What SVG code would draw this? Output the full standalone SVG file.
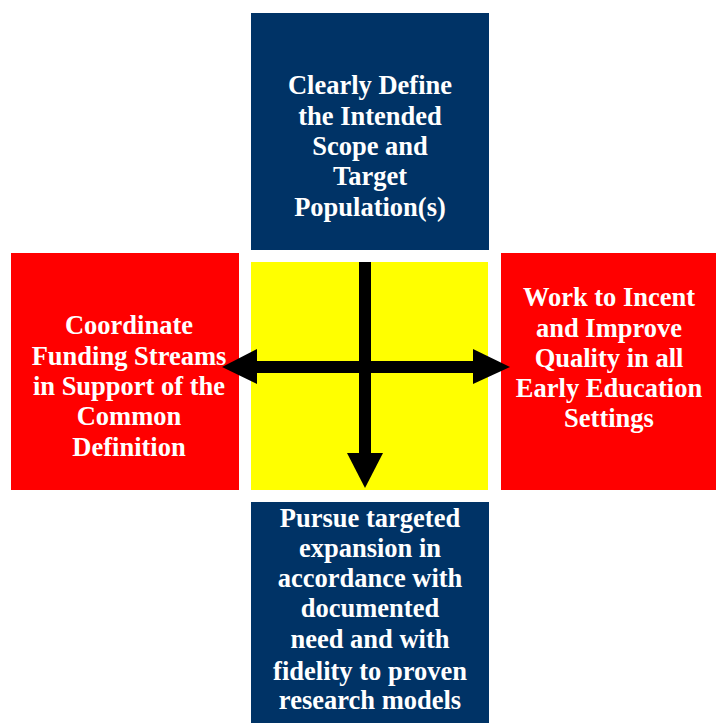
<svg xmlns="http://www.w3.org/2000/svg" width="716" height="723" viewBox="0 0 716 723">
<style>
.lbl{font-family:"Liberation Serif","Times New Roman",serif;font-weight:bold;font-size:26.5px;fill:#ffffff;text-anchor:middle}
.navy{fill:#003366}
.red{fill:#ff0000}
.arrow{fill:#000000}
</style>
<rect width="716" height="723" fill="#ffffff"/>
<g id="center">
<rect x="251" y="262" width="237" height="228" fill="#ffff00"/>
</g>
<g id="top">
<rect class="navy" x="251" y="13" width="238" height="237"/>
<text class="lbl" x="370" y="94">Clearly Define</text>
<text class="lbl" x="370" y="125">the Intended</text>
<text class="lbl" x="370" y="155">Scope and</text>
<text class="lbl" x="370" y="185">Target</text>
<text class="lbl" x="370" y="216">Population(s)</text>
</g>
<g id="left">
<rect class="red" x="11" y="253" width="228" height="237"/>
<text class="lbl" x="129" y="334">Coordinate</text>
<text class="lbl" x="129" y="365">Funding Streams</text>
<text class="lbl" x="129" y="395">in Support of the</text>
<text class="lbl" x="129" y="425">Common</text>
<text class="lbl" x="129" y="456">Definition</text>
</g>
<g id="right">
<rect class="red" x="501" y="253" width="215" height="237"/>
<text class="lbl" x="609" y="306">Work to Incent</text>
<text class="lbl" x="609" y="337">and Improve</text>
<text class="lbl" x="609" y="367">Quality in all</text>
<text class="lbl" x="609" y="397">Early Education</text>
<text class="lbl" x="609" y="427">Settings</text>
</g>
<g id="bottom">
<rect class="navy" x="251" y="502" width="238" height="221"/>
<text class="lbl" x="370" y="527">Pursue targeted</text>
<text class="lbl" x="370" y="557">expansion in</text>
<text class="lbl" x="370" y="587">accordance with</text>
<text class="lbl" x="370" y="617">documented</text>
<text class="lbl" x="370" y="648">need and with</text>
<text class="lbl" x="370" y="680">fidelity to proven</text>
<text class="lbl" x="370" y="709">research models</text>
</g>
<g id="connectors">
<rect class="arrow" x="359" y="262" width="12" height="192"/>
<polygon class="arrow" points="347,453 383,453 365,488"/>
<rect class="arrow" x="256" y="361" width="218" height="12"/>
<polygon class="arrow" points="257,349 257,384 222,367"/>
<polygon class="arrow" points="473,349 473,384 510,367"/>
</g>
</svg>
